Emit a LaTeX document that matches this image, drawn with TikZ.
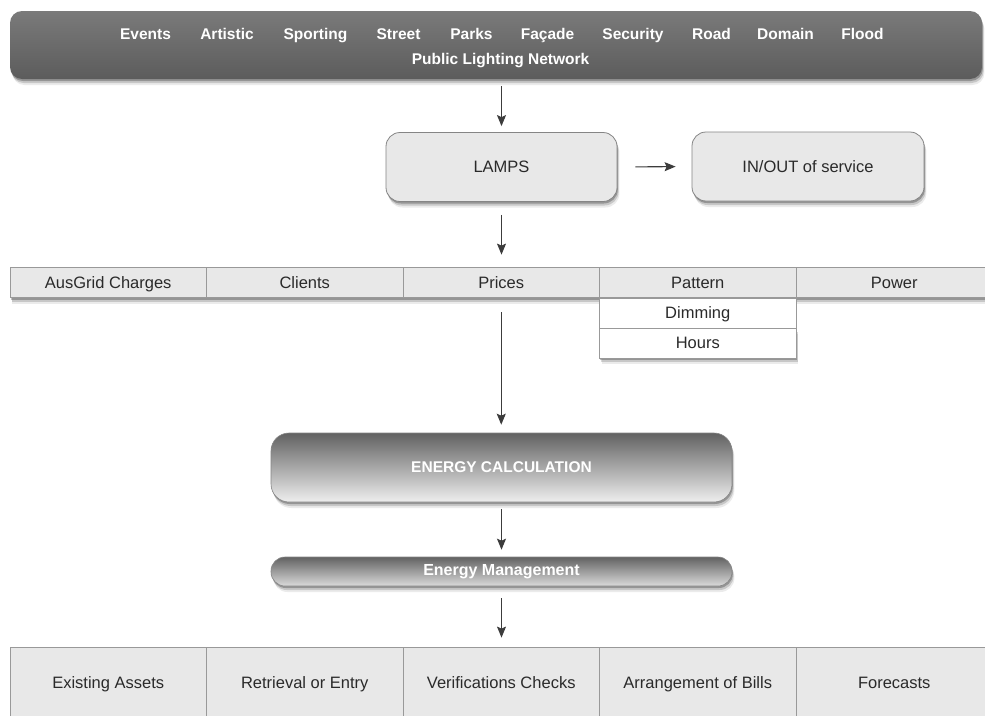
\documentclass[tikz,border=0pt]{standalone}
\usepackage{fontspec}
\setmainfont{Liberation Sans}
\usetikzlibrary{shadows,arrows.meta}
\definecolor{boxfill}{HTML}{E8E8E8}
\definecolor{boxline}{HTML}{858585}
\definecolor{cellline}{HTML}{999999}
\definecolor{txtc}{HTML}{2A2A2A}
\definecolor{arrc}{HTML}{3C3C3C}
\definecolor{bantop}{HTML}{7A7A7A}
\definecolor{banbot}{HTML}{5C5C5C}
\definecolor{ectop}{HTML}{626262}
\definecolor{ecbot}{HTML}{EEEEEE}
\definecolor{emtop}{HTML}{626262}
\definecolor{embot}{HTML}{DADADA}
\begin{document}
\begin{tikzpicture}[x=1pt,y=-1pt,
  softshadow/.style={
    drop shadow={shadow xshift=0.8pt,shadow yshift=-2pt,opacity=0.25,fill=black},
    drop shadow={shadow xshift=1.6pt,shadow yshift=-4pt,opacity=0.15,fill=black},
    drop shadow={shadow xshift=2.4pt,shadow yshift=-6pt,opacity=0.08,fill=black}},
  regtext/.style={font=\fontsize{16.5}{18}\selectfont, text=txtc, text height=11.8pt, text depth=0pt},
  banner/.style={rounded corners=12pt, top color=bantop, bottom color=banbot,
    minimum width=972pt, minimum height=68pt, inner sep=0pt, softshadow},
  banword/.style={font=\fontsize{15.5}{17}\selectfont\bfseries, text=white, anchor=base, inner sep=0pt},
  roundbox/.style={regtext, draw=boxline, line width=0.8pt, fill=boxfill, rounded corners=14pt,
    minimum width=231pt, minimum height=69pt, inner sep=0pt, softshadow},
  cell/.style={regtext, draw=cellline, line width=0.8pt, fill=boxfill,
    minimum width=196.5pt, minimum height=30pt, inner sep=0pt},
  subcell/.style={cell, fill=white},
  bigcell/.style={cell, minimum height=72pt},
  ecbox/.style={draw=boxline, line width=0.6pt, top color=ectop, bottom color=ecbot,
    rounded corners=18pt, minimum width=461pt, minimum height=69pt, inner sep=0pt,
    font=\fontsize{15.5}{17}\selectfont\bfseries, text=white, softshadow},
  embox/.style={draw=boxline, line width=0.6pt, top color=emtop, bottom color=embot,
    rounded corners=14pt, minimum width=461pt, minimum height=29pt, inner sep=0pt,
    font=\fontsize{16}{17}\selectfont\bfseries, text=white, softshadow},
  arrow/.style={draw=arrc, line width=1.1pt, -{Stealth[length=11pt,width=9pt,inset=2pt]}}
]
\useasboundingbox (0,0) rectangle (985,715);
\fill[white] (0,0) rectangle (985,715);

% banner
\node[banner] (banner) at (496,45) {};
\node[banword] (w1) at (145.5,39) {Events};
\node[banword] (w2) at (227,39) {Artistic};
\node[banword] (w3) at (315.5,39) {Sporting};
\node[banword] (w4) at (398.5,39) {Street};
\node[banword] (w5) at (471.5,39) {Parks};
\node[banword] (w6) at (547.5,39) {Façade};
\node[banword] (w7) at (633,39) {Security};
\node[banword] (w8) at (711.5,39) {Road};
\node[banword] (w9) at (785.5,39) {Domain};
\node[banword] (w10) at (862.5,39) {Flood};
\node[banword] (pln) at (500.5,64) {Public Lighting Network};

% lamps
\node[roundbox] (lamps) at (501.5,167) {LAMPS};
\node[roundbox, minimum width=232pt] (inout) at (808,166.5) {IN/OUT of service};

% row 1
\node[cell, softshadow] (aus) at (108.25,282.5) {AusGrid Charges};
\node[cell, softshadow] (clients) at (304.75,282.5) {Clients};
\node[cell, softshadow] (prices) at (501.25,282.5) {Prices};
\node[cell, softshadow] (pattern) at (697.75,282.5) {Pattern};
\node[cell, softshadow] (power) at (894.25,282.5) {Power};
\node[subcell, softshadow] (hours) at (697.75,343) {Hours};
\node[subcell] (dimming) at (697.75,313) {Dimming};

% energy
\node[ecbox] (ec) at (501.5,467.5) {ENERGY CALCULATION};
\node[embox] (em) at (501.5,571.5) {Energy Management};

% bottom row
\node[bigcell] (assets) at (108.25,683) {Existing Assets};
\node[bigcell] (retrieval) at (304.75,683) {Retrieval or Entry};
\node[bigcell] (verif) at (501.25,683) {Verifications Checks};
\node[bigcell] (bills) at (697.75,683) {Arrangement of Bills};
\node[bigcell] (forecasts) at (894.25,683) {Forecasts};

% connectors
\draw[arrow, shorten <=7pt, shorten >=6pt] (banner.south -| lamps.north) -- (lamps.north);
\draw[arrow, shorten <=18pt, shorten >=16pt] (lamps.east) -- (inout.west);
\draw[arrow, shorten <=13pt, shorten >=12.5pt] (lamps.south) -- (lamps.south |- prices.north);
\draw[arrow, shorten <=14.5pt, shorten >=8pt] (prices.south) -- (prices.south |- ec.north);
\draw[arrow, shorten <=7pt, shorten >=7pt] (ec.south) -- (em.north);
\draw[arrow, shorten <=12pt, shorten >=9pt] (em.south) -- (em.south |- verif.north);
\end{tikzpicture}
\end{document}
